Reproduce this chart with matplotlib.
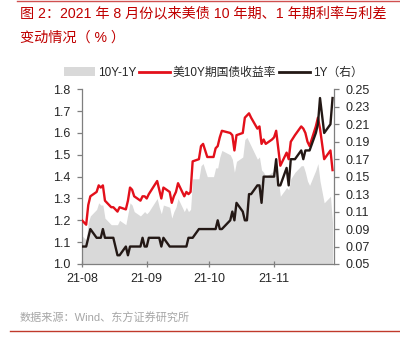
import matplotlib
matplotlib.use('Agg')
import matplotlib.pyplot as plt
import matplotlib.ticker as mticker
import pandas as pd
import numpy as np
from matplotlib.lines import Line2D
from matplotlib.patches import Patch

plt.rcParams['font.family'] = ['Liberation Sans', 'Noto Sans CJK SC', 'DejaVu Sans']

# ---------------- data ----------------
holidays = ['2021-09-06', '2021-10-11', '2021-11-11', '2021-11-25']
dates = pd.bdate_range('2021-08-02', '2021-11-30', freq='C', holidays=holidays)

us10y = [
    # Aug
    1.20, 1.19, 1.18, 1.27, 1.31, 1.33, 1.36, 1.35, 1.36, 1.29, 1.26, 1.26, 1.25, 1.24, 1.26,
    1.25, 1.29, 1.35, 1.34, 1.31, 1.29, 1.31,
    # Sep
    1.31, 1.30, 1.32, 1.38, 1.34, 1.30, 1.35, 1.33, 1.28, 1.31, 1.33, 1.37, 1.31, 1.33, 1.32,
    1.33, 1.47, 1.48, 1.54, 1.55, 1.52,
    # Oct
    1.49, 1.49, 1.53, 1.54, 1.58, 1.61, 1.60, 1.59, 1.52, 1.59, 1.60, 1.67, 1.68, 1.69, 1.67,
    1.62, 1.63, 1.55, 1.57, 1.55,
    # Nov
    1.57, 1.58, 1.61, 1.53, 1.45, 1.51, 1.48, 1.56, 1.59, 1.63, 1.62, 1.60, 1.56, 1.54, 1.63,
    1.67, 1.62, 1.48, 1.52, 1.43,
]

us1y = [
    # Aug
    0.07, 0.07, 0.07, 0.08, 0.09, 0.08, 0.08, 0.08, 0.09, 0.08, 0.08, 0.08, 0.07, 0.06, 0.06,
    0.07, 0.06, 0.07, 0.07, 0.07, 0.07, 0.08,
    # Sep
    0.07, 0.07, 0.08, 0.08, 0.08, 0.07, 0.08, 0.07, 0.07, 0.07, 0.07, 0.07, 0.07, 0.07, 0.08,
    0.08, 0.08, 0.09, 0.09, 0.09, 0.09,
    # Oct
    0.09, 0.09, 0.09, 0.10, 0.09, 0.09, 0.10, 0.11, 0.10, 0.12, 0.11, 0.10, 0.10, 0.13, 0.13,
    0.14, 0.14, 0.12, 0.15, 0.15,
    # Nov
    0.15, 0.15, 0.17, 0.14, 0.14, 0.16, 0.14, 0.17, 0.17, 0.18, 0.17, 0.18, 0.18, 0.18, 0.20,
    0.21, 0.24, 0.20, 0.21, 0.24,
]

spread = [
    # Aug
    1.13, 1.12, 1.11, 1.19, 1.22, 1.25, 1.28, 1.27, 1.27, 1.21, 1.18, 1.18, 1.18, 1.18, 1.20,
    1.18, 1.23, 1.28, 1.27, 1.24, 1.22, 1.23,
    # Sep
    1.24, 1.23, 1.24, 1.30, 1.26, 1.23, 1.27, 1.26, 1.21, 1.24, 1.26, 1.30, 1.24, 1.26, 1.24,
    1.25, 1.39, 1.39, 1.45, 1.46, 1.43,
    # Oct
    1.40, 1.40, 1.44, 1.44, 1.49, 1.52, 1.50, 1.48, 1.42, 1.47, 1.49, 1.57, 1.58, 1.56, 1.54,
    1.48, 1.49, 1.43, 1.42, 1.40,
    # Nov
    1.42, 1.43, 1.44, 1.39, 1.31, 1.35, 1.34, 1.39, 1.42, 1.45, 1.45, 1.42, 1.38, 1.36, 1.43,
    1.46, 1.38, 1.28, 1.31, 1.19,
]

tick_dates = ['2021-08-02', '2021-09-02', '2021-10-02', '2021-11-02']
tick_labels = ['21-08', '21-09', '21-10', '21-11']
left_ticks = [1.0, 1.1, 1.2, 1.3, 1.4, 1.5, 1.6, 1.7, 1.8]
right_ticks = [0.05, 0.07, 0.09, 0.11, 0.13, 0.15, 0.17, 0.19, 0.21, 0.23, 0.25]

title1 = '图 2：2021 年 8 月份以来美债 10 年期、1 年期利率与利差'
title2 = '变动情况（ % ）'
source = '数据来源：Wind、东方证券研究所'
legend_labels = ['10Y-1Y', '美10Y期国债收益率', '1Y（右）']

# ---------------- styles ----------------
RED = '#E3101B'
BLACK = '#231815'
GREY = '#D9D9D9'
AXC = '#7F7F7F'
TXT = '#262626'

fig = plt.figure(figsize=(4, 3.5), dpi=100)
ax = fig.add_axes([82 / 400, 1 - 264 / 350, (334 - 82) / 400, (264 - 89.3) / 350])

ax.fill_between(dates, spread, 1.0, color=GREY, lw=0, zorder=1)
ax.plot(dates, us10y, color=RED, lw=1.7, zorder=3)
ax.set_ylim(1.0, 1.8)
ax.set_yticks(left_ticks)
ax.yaxis.set_major_formatter(mticker.FormatStrFormatter('%.1f'))

ax2 = ax.twinx()
ax2.plot(dates, us1y, color=BLACK, lw=1.7, zorder=3)
ax2.set_ylim(0.05, 0.25)
ax2.set_yticks(right_ticks)
ax2.yaxis.set_major_formatter(mticker.FormatStrFormatter('%.2f'))

x0 = pd.Timestamp('2021-08-02')
ax.set_xlim(x0, x0 + pd.Timedelta(days=120.7))
ax.set_xticks(pd.to_datetime(tick_dates))
ax.set_xticklabels(tick_labels)

for a in (ax, ax2):
    a.spines['top'].set_visible(False)
    for s in a.spines.values():
        s.set_color(AXC)
        s.set_linewidth(0.9)
ax.spines['right'].set_visible(False)
ax2.spines['left'].set_visible(False)
ax2.spines['bottom'].set_visible(False)

ax.tick_params(axis='y', direction='out', length=3.5, width=0.9, color=AXC,
               labelsize=9, labelcolor=TXT, pad=5)
ax.tick_params(axis='x', direction='inout', length=5, width=0.9, color=AXC,
               labelsize=9, labelcolor=TXT, pad=4)
ax2.tick_params(axis='y', direction='out', length=3.5, width=0.9, color=AXC,
                labelsize=9, labelcolor=TXT, pad=5)

handles = [Patch(facecolor=GREY, edgecolor='none'),
           Line2D([], [], color=RED, lw=2),
           Line2D([], [], color=BLACK, lw=2)]
fig.legend(handles, legend_labels, loc='center', bbox_to_anchor=(0.533, 1 - 73 / 350),
           ncol=3, frameon=False, fontsize=8.5, handlelength=2.6, handleheight=0.8,
           handletextpad=0.25, columnspacing=0.25, labelcolor=TXT)

fig.text(20 / 400, 1 - 13.5 / 350, title1, color='#C00000', fontsize=10.2,
         va='center', ha='left')
fig.text(20 / 400, 1 - 37.5 / 350, title2, color='#C00000', fontsize=10.2,
         va='center', ha='left')
fig.text(20 / 400, 1 - 318 / 350, source, color='#A6A6A6', fontsize=8,
         va='center', ha='left')

fig.add_artist(Line2D([17 / 400, 1], [1 - 1 / 350, 1 - 1 / 350], color='#D05050', lw=1))
fig.add_artist(Line2D([10 / 400, 1], [1 - 330.7 / 350, 1 - 330.7 / 350], color='#C0392B', lw=1))

fig.savefig('out.png', dpi=100)
